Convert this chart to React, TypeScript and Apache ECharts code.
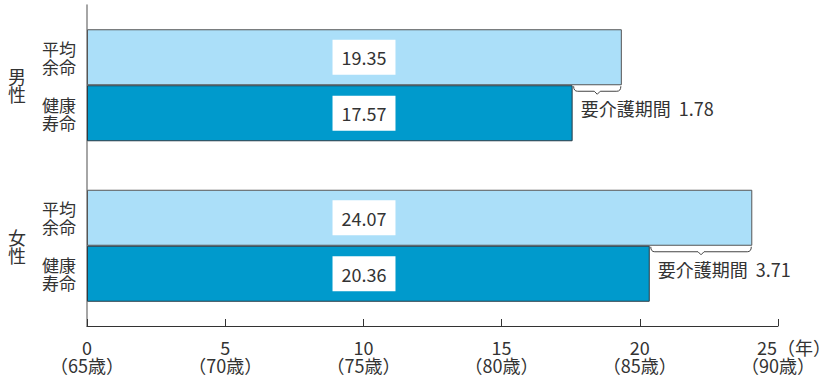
import React, { useEffect, useRef } from "react";
import * as echarts from "echarts";

// 65歳時点の平均余命と健康寿命（年）
const genders = ["男性", "女性"];
const lifeExpectancy = [19.35, 24.07];
const healthyLife = [17.57, 20.36];
const seriesNames = ["平均余命", "健康寿命"];
const baseAge = 65;
const xTicks = { min: 0, max: 25, interval: 5 };
const unitLabel = "（年）";

const FONT = "'Liberation Sans Narrow', 'Noto Sans CJK JP', sans-serif";
const TEXT = "#333";

export default function App() {
  const ref = useRef<HTMLDivElement>(null);

  useEffect(() => {
    if (!ref.current) return;
    const chart = echarts.init(ref.current, undefined, { renderer: "svg" });

    const splitName = (s: string) => `${s.slice(0, 2)}\n${s.slice(2)}`;

    const valueLabel = {
      show: true,
      position: [277, "50%"],
      align: "center",
      verticalAlign: "middle",
      backgroundColor: "#fff",
      padding: [9, 9, 8, 9],
      fontSize: 18,
      fontFamily: FONT,
      color: TEXT,
      formatter: (p: any) => p.value.toFixed(2),
    };

    const nameLabel = {
      show: true,
      position: "left",
      distance: 11,
      fontSize: 17,
      lineHeight: 18,
      fontFamily: FONT,
      color: TEXT,
      formatter: (p: any) => splitName(p.seriesName),
    };

    const braceData = genders.map((_, i) => [healthyLife[i], lifeExpectancy[i], i]);

    chart.setOption({
      animation: false,
      textStyle: { fontFamily: FONT },
      grid: {
        left: 87,
        right: 53,
        top: 5,
        bottom: 51,
        containLabel: false,
        outerBoundsMode: "none",
      },
      xAxis: {
        type: "value",
        min: xTicks.min,
        max: xTicks.max,
        interval: xTicks.interval,
        splitLine: { show: false },
        axisLine: { show: true, lineStyle: { color: "#333", width: 1 } },
        axisTick: { show: true, inside: true, length: 7, lineStyle: { color: "#333" } },
        axisLabel: {
          margin: 12,
          fontSize: 18,
          lineHeight: 18,
          color: TEXT,
          fontFamily: FONT,
          formatter: (v: number) =>
            v === xTicks.max
              ? `{r|${v}}{u|${unitLabel}}\n（${baseAge + v}歳）`
              : `${v}\n（${baseAge + v}歳）`,
          rich: {
            r: {
              fontSize: 18,
              lineHeight: 18,
              color: TEXT,
              fontFamily: FONT,
              padding: [0, 0, 0, 32],
            },
            u: {
              fontSize: 18,
              lineHeight: 18,
              color: TEXT,
              fontFamily: FONT,
            },
          },
        },
      },
      yAxis: [
        {
          type: "category",
          data: genders,
          inverse: true,
          axisLine: { show: true, lineStyle: { color: "#888", width: 1.5 } },
          axisTick: { show: false },
          axisLabel: {
            margin: 61,
            fontSize: 18,
            lineHeight: 18,
            color: TEXT,
            fontFamily: FONT,
            formatter: (v: string) => v.split("").join("\n"),
          },
        },
        {
          type: "category",
          data: genders,
          inverse: true,
          show: false,
        },
      ],
      series: [
        {
          name: seriesNames[0],
          type: "bar",
          yAxisIndex: 0,
          data: lifeExpectancy,
          barWidth: 56,
          barGap: "0%",
          itemStyle: { color: "#abdff9", borderColor: "#555", borderWidth: 1 },
          label: valueLabel,
        },
        {
          name: seriesNames[1],
          type: "bar",
          yAxisIndex: 0,
          data: healthyLife,
          barWidth: 56,
          barGap: "0%",
          itemStyle: { color: "#009acc", borderColor: "#2a3a44", borderWidth: 1 },
          label: valueLabel,
        },
        // transparent copies that carry the row names to the left of the axis
        {
          name: seriesNames[0],
          type: "bar",
          yAxisIndex: 1,
          data: lifeExpectancy,
          barWidth: 56,
          barGap: "0%",
          silent: true,
          itemStyle: { color: "rgba(0,0,0,0)" },
          label: nameLabel,
        },
        {
          name: seriesNames[1],
          type: "bar",
          yAxisIndex: 1,
          data: healthyLife,
          barWidth: 56,
          barGap: "0%",
          silent: true,
          itemStyle: { color: "rgba(0,0,0,0)" },
          label: nameLabel,
        },
        // brace marking the care-needed period between the two bars
        {
          type: "custom",
          xAxisIndex: 0,
          yAxisIndex: 0,
          data: braceData,
          encode: { x: [0, 1], y: 2 },
          z: 5,
          silent: true,
          renderItem: (_params: any, api: any) => {
            const row = api.value(2);
            const a = api.value(0);
            const b = api.value(1);
            const start = api.coord([a, row]);
            const end = api.coord([b, row]);
            const y = start[1] + 1;
            const x1 = start[0] + 1;
            const x2 = end[0] - 1;
            const xm = (x1 + x2) / 2;
            const d =
              `M${x1},${y} Q${x1},${y + 5} ${x1 + 4},${y + 5} ` +
              `L${xm - 3},${y + 5} L${xm},${y + 8} L${xm + 3},${y + 5} ` +
              `L${x2 - 4},${y + 5} Q${x2},${y + 5} ${x2},${y}`;
            return {
              type: "group",
              children: [
                {
                  type: "path",
                  shape: { pathData: d },
                  style: { fill: "none", stroke: "#444", lineWidth: 1 },
                },
                {
                  type: "text",
                  x: x1 + 7,
                  y: y + 22,
                  style: {
                    text: `要介護期間  ${(b - a).toFixed(2)}`,
                    fontSize: 18,
                    fontFamily: FONT,
                    fill: TEXT,
                    verticalAlign: "middle",
                    align: "left",
                  },
                },
              ],
            };
          },
        },
      ],
    });

    return () => chart.dispose();
  }, []);

  return <div ref={ref} style={{ width: 831, height: 377, position: "absolute", left: 0, top: 0 }} />;
}
